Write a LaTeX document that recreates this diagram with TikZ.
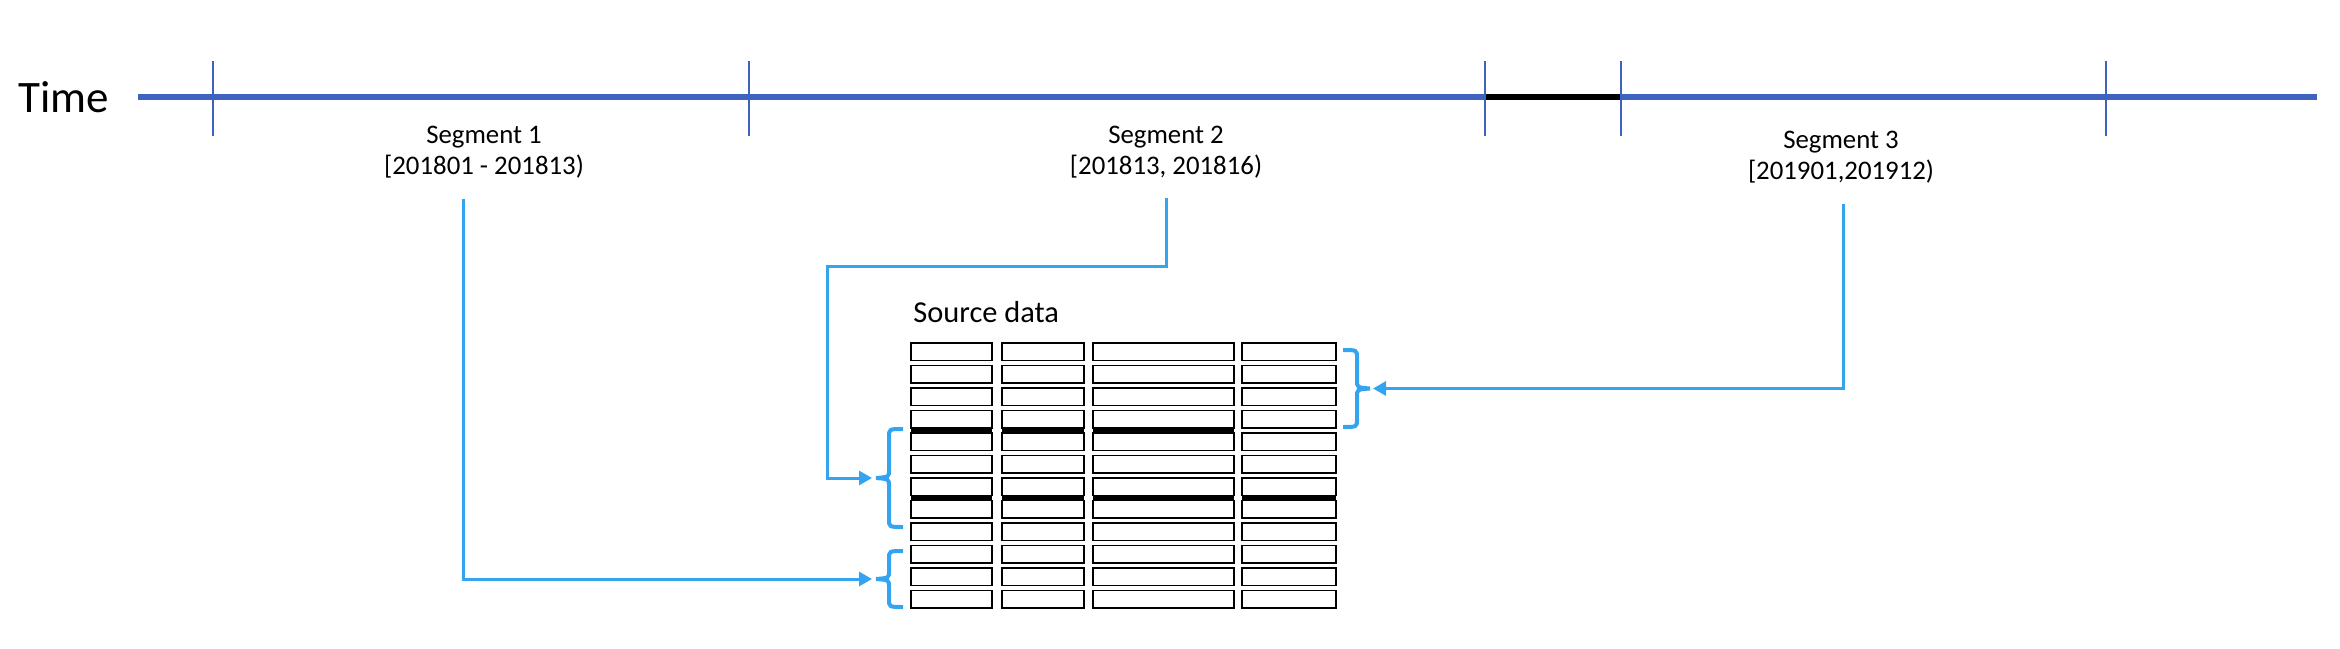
\documentclass[tikz,border=0pt]{standalone}
\usepackage{fontspec}
\setmainfont{Carlito}
\usepackage{xcolor}
\definecolor{colorTimeline}{RGB}{61,99,190}
\definecolor{colorLink}{RGB}{52,164,240}
\usepackage{tikz}
\usetikzlibrary{arrows.meta}
\tikzset{
  timeline/.style={colorTimeline, line width=3pt},
  timetick/.style={colorTimeline, line width=1pt},
  seglabel/.style={align=center, inner sep=0pt, anchor=north, font=\fontsize{13.4pt}{15.5pt}\selectfont},
  link/.style={->, colorLink, line width=1.5pt},
  cellbox/.style={black, line width=0.75pt},
  joinbar/.style={black, line width=2pt},
  rowbrace/.style={colorLink, line width=2pt},
}
% curly brace: hook x, top y, bottom y, side (-1 left, 1 right)
\newcommand{\rowbrace}[4]{%
  \draw[rowbrace] (#1,#2) .. controls ({#1+#4*14},#2) .. ({#1+#4*14},{#2+8})
    -- ({#1+#4*14},{(#2+#3)/2-8}) .. controls ({#1+#4*14},{(#2+#3)/2-1}) .. ({#1+#4*27},{(#2+#3)/2})
    .. controls ({#1+#4*14},{(#2+#3)/2+1}) .. ({#1+#4*14},{(#2+#3)/2+8})
    -- ({#1+#4*14},{#3-8}) .. controls ({#1+#4*14},#3) .. (#1,#3);}

\begin{document}
\begin{tikzpicture}[x=0.5pt, y=-0.5pt, >={Triangle[length=6.5pt, width=7pt]}]
\useasboundingbox (0,0) rectangle (2340,648);
% time axis
\node[anchor=base west, inner sep=0pt, font=\fontsize{22.5pt}{27pt}\selectfont] (time) at (18,112) {Time};
\coordinate (tstart) at (138,97);
\coordinate (tend) at (2317,97);
\draw[timeline] (tstart) -- (tend);
\draw[black, line width=3pt] (1485,97) -- (1621,97);
\foreach \x in {213,749,1485,1621,2106}
  \draw[timetick] (\x,61) -- (\x,136);
\node[seglabel] (seg1) at (484,126) {Segment 1\\{[}201801 - 201813)};
\node[seglabel] (seg2) at (1166,126) {Segment 2\\{[}201813, 201816)};
\node[seglabel] (seg3) at (1841,131) {Segment 3\\{[}201901,201912)};
% source table
\node[anchor=base west, inner sep=0pt, font=\fontsize{15.2pt}{18pt}\selectfont] (src) at (913,322) {Source data};
\foreach \r in {0,...,11}
  \foreach \xa/\xb in {911/992, 1002/1084, 1093/1234, 1242/1336}
    \draw[cellbox] (\xa,{343+\r*22.5}) rectangle (\xb,{360.5+\r*22.5});
\foreach \xa/\xb in {911/992, 1002/1084, 1093/1234}
  \draw[joinbar] (\xa,430.5) -- (\xb,430.5);
\foreach \xa/\xb in {911/992, 1002/1084, 1093/1234, 1242/1336}
  \draw[joinbar] (\xa,498) -- (\xb,498);
% braces
\rowbrace{1343}{350}{427}{1}
\rowbrace{903}{429}{527}{-1}
\rowbrace{903}{551}{607}{-1}
\coordinate (b3) at (1373,388.5);
\coordinate (b2) at (872,478);
\coordinate (b1) at (872,579);
% links
\coordinate (s1) at (463,199);
\coordinate (s2) at (1166,198);
\coordinate (s3) at (1843,204);
\draw[link] (s1) |- (b1);
\draw[link] (s2) -- (1166,266) -| (827,478) -- (b2);
\draw[link] (s3) |- (b3);
\end{tikzpicture}
\end{document}
